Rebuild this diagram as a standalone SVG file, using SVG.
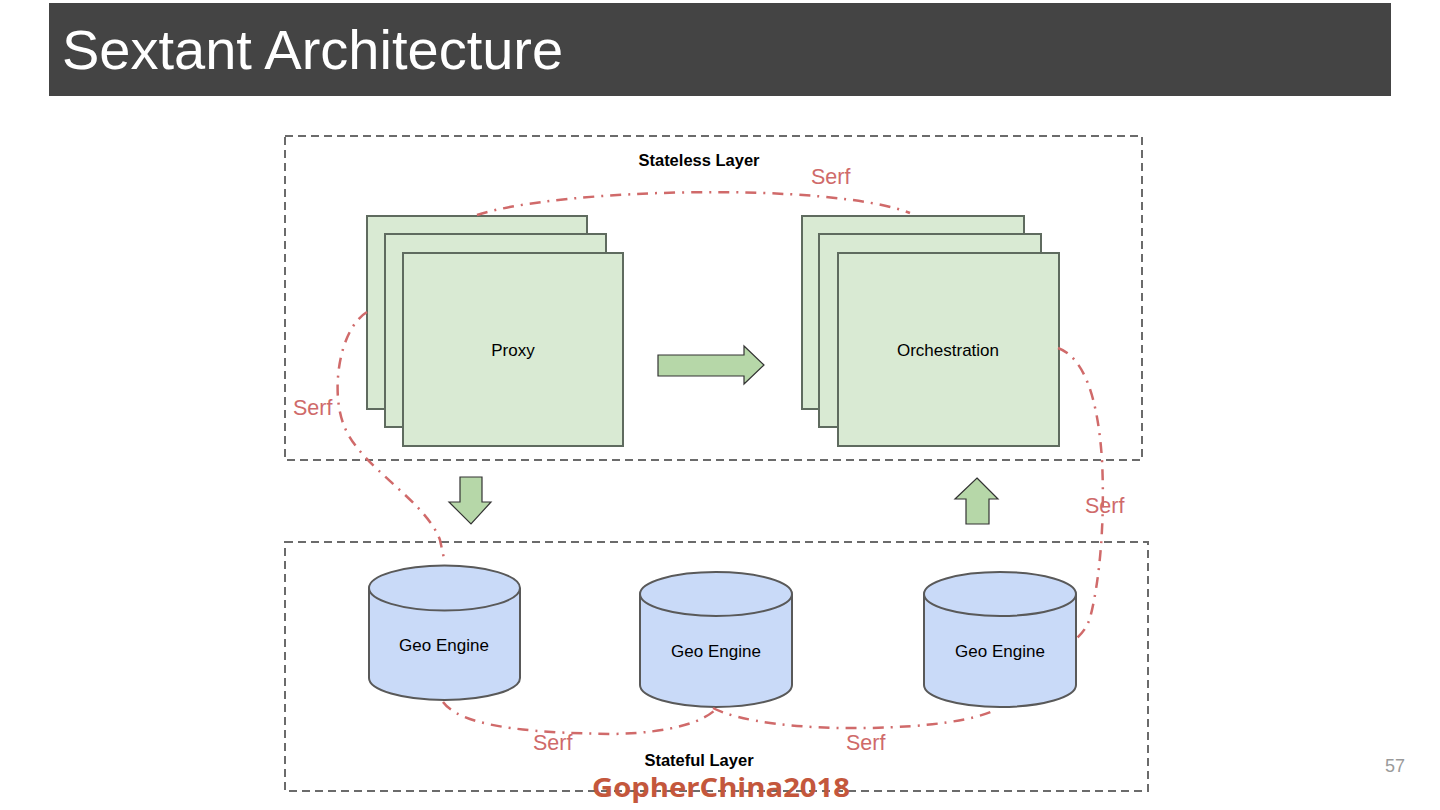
<svg xmlns="http://www.w3.org/2000/svg" width="1440" height="810" viewBox="0 0 1440 810">
<style>
.layer{fill:none;stroke:#6b6b6b;stroke-width:2;stroke-dasharray:8 5}
.card{fill:#d9ead3;stroke:#5f6b5f;stroke-width:2}
.arrow{fill:#b6d7a8;stroke:#333;stroke-width:1.2}
.cyl{fill:#c9daf8;stroke:#595959;stroke-width:2}
.serf{fill:none;stroke:#d06a6a;stroke-width:2.5;stroke-dasharray:11 7 2 7}
.lbl{font-family:"Liberation Sans",Arial,sans-serif;font-size:17px;fill:#000;text-anchor:middle}
.layerlbl{font-family:"Liberation Sans",Arial,sans-serif;font-size:16.5px;font-weight:bold;fill:#000;text-anchor:middle}
.serflbl{font-family:"Liberation Sans",Arial,sans-serif;font-size:21.5px;fill:#cf6a6a}
</style>
<rect width="1440" height="810" fill="#fff"/>
<g id="title">
<rect x="49" y="3" width="1342" height="93" fill="#444"/>
<text x="62" y="69" font-family="Liberation Sans,Arial,sans-serif" font-size="56" fill="#fff">Sextant Architecture</text>
</g>
<g id="stateless-layer">
<rect class="layer" x="285" y="136" width="857" height="324"/>
<text class="layerlbl" x="699" y="166">Stateless Layer</text>
</g>
<g id="stateful-layer">
<rect class="layer" x="285" y="542" width="863" height="249"/>
<text class="layerlbl" x="699" y="766">Stateful Layer</text>
</g>
<g id="proxy">
<rect class="card" x="367" y="216" width="220" height="193"/>
<rect class="card" x="385" y="234" width="221" height="193"/>
<rect class="card" x="403" y="253" width="220" height="193"/>
<text class="lbl" x="513" y="356">Proxy</text>
</g>
<g id="orchestration">
<rect class="card" x="802" y="216" width="222" height="193"/>
<rect class="card" x="819" y="234" width="222" height="193"/>
<rect class="card" x="838" y="253" width="221" height="193"/>
<text class="lbl" x="948" y="356">Orchestration</text>
</g>
<g id="geo-engine-1">
<path class="cyl" d="M369,588 L369,678 A75.5,22 0 0 0 520,678 L520,588 A75.5,22.5 0 0 0 369,588 Z"/>
<path class="cyl" d="M369,588 A75.5,22.5 0 0 0 520,588"/>
<text class="lbl" x="444" y="651">Geo Engine</text>
</g>
<g id="geo-engine-2">
<path class="cyl" d="M640,594 L640,685 A76,22 0 0 0 792,685 L792,594 A76,22 0 0 0 640,594 Z"/>
<path class="cyl" d="M640,594 A76,22 0 0 0 792,594"/>
<text class="lbl" x="716" y="657">Geo Engine</text>
</g>
<g id="geo-engine-3">
<path class="cyl" d="M924,594 L924,685 A76,22 0 0 0 1076,685 L1076,594 A76,22 0 0 0 924,594 Z"/>
<path class="cyl" d="M924,594 A76,22 0 0 0 1076,594"/>
<text class="lbl" x="1000" y="657">Geo Engine</text>
</g>
<g id="connectors">
<path class="arrow" d="M658,355 L744,355 L744,346 L764,365 L744,384 L744,376 L658,376 Z"/>
<path class="arrow" d="M460,477 L482,477 L482,502 L491,502 L471,524 L449,502 L460,502 Z"/>
<path class="arrow" d="M977,478 L998,499 L989,499 L989,524 L966,524 L966,499 L955,499 Z"/>
<path class="serf" d="M477,215 C 560,188 830,182 910,213"/>
<path class="serf" d="M367,312 C 338,330 330,395 345,428 C 362,468 425,500 440,540 L 445,563"/>
<path class="serf" d="M1058,348 C 1085,358 1098,400 1102,460 C 1105,520 1100,580 1090,618 C 1086,630 1080,635 1077,638"/>
<path class="serf" d="M443,702 C 460,725 520,733 613,734 C 670,733 705,722 718,707"/>
<path class="serf" d="M713,708 C 740,722 800,729 867,728 C 930,727 975,720 995,710"/>
</g>
<g id="serf-labels">
<text class="serflbl" x="811" y="184">Serf</text>
<text class="serflbl" x="293" y="415">Serf</text>
<text class="serflbl" x="1085" y="513">Serf</text>
<text class="serflbl" x="533" y="750">Serf</text>
<text class="serflbl" x="846" y="750">Serf</text>
</g>
<text x="592" y="797" font-family="Open Sans,DejaVu Sans,sans-serif" font-size="27" font-weight="bold" fill="#c4573c" textLength="258" lengthAdjust="spacingAndGlyphs">GopherChina2018</text>
<text x="1385" y="772" font-family="Liberation Sans,Arial,sans-serif" font-size="18" fill="#9a9a9a">57</text>
</svg>
